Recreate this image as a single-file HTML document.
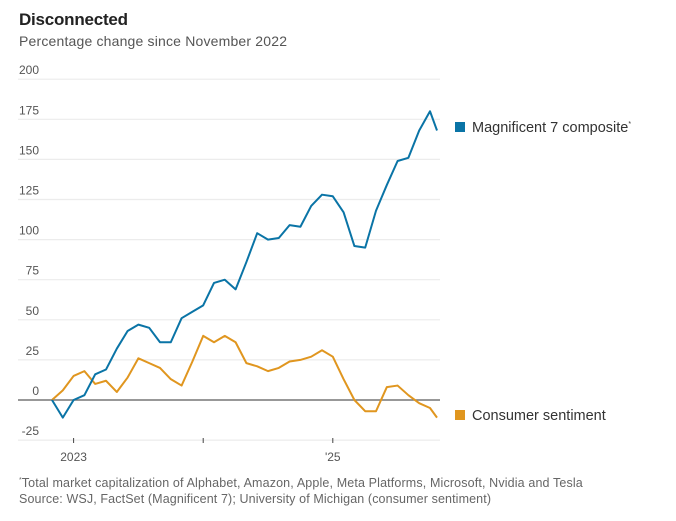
<!DOCTYPE html>
<html><head><meta charset="utf-8">
<style>
body{margin:0;background:#fff;width:676px;height:516px;overflow:hidden;font-family:"Liberation Sans",sans-serif}
svg text{font-family:"Liberation Sans",sans-serif}
</style></head>
<body>
<svg id="chart" width="676" height="516">
<text x="19" y="25" font-size="17" font-weight="bold" fill="#222" textLength="109">Disconnected</text>
<text x="19" y="46" font-size="14" fill="#555" textLength="268">Percentage change since November 2022</text>
<g id="grid"></g>
<g id="series"></g>
<g>
<rect x="455" y="122" width="10" height="10" fill="#0a74a6"/>
<text x="472" y="132" font-size="14.5" fill="#333">Magnificent 7 composite<tspan font-size="7" dy="-6">*</tspan></text>
<rect x="455" y="410" width="10" height="10" fill="#e0961f"/>
<text x="472" y="420" font-size="14.5" fill="#333">Consumer sentiment</text>
</g>
<text x="19" y="487" font-size="12.5" fill="#666"><tspan font-size="7" dy="-5">*</tspan><tspan dy="5" textLength="561">Total market capitalization of Alphabet, Amazon, Apple, Meta Platforms, Microsoft, Nvidia and Tesla</tspan></text>
<text x="19" y="503" font-size="12.5" fill="#666" textLength="472">Source: WSJ, FactSet (Magnificent 7); University of Michigan (consumer sentiment)</text>
</svg>
<script>
const yTicks=[-25,0,25,50,75,100,125,150,175,200];
const xTickMonths=[2,14,26];
const xTickLabels=["2023","","'25"];
const months=[0,1,2,3,4,5,6,7,8,9,10,11,12,13,14,15,16,17,18,19,20,21,22,23,24,25,26,27,28,29,30,31,32,33,34,35,35.65];
const mag7=[0,-11,0,3,16,19,32,43,47,45,36,36,51,55,59,73,75,69,86,104,100,101,109,108,121,128,127,117,96,95,118,134,149,151,168,180,168];
const sentiment=[0,6,15,18,10,12,5,14,26,23,20,13,9,24,40,36,40,36,23,21,18,20,24,25,27,31,27,13,0,-7,-7,8,9,3,-2,-5,-11];
const NS="http://www.w3.org/2000/svg";
function yS(v){return 400-v*1.604;}
function xS(m){return 52+m*10.8;}
const grid=document.getElementById('grid');
yTicks.forEach(t=>{
  const l=document.createElementNS(NS,'line');
  l.setAttribute('x1',18);l.setAttribute('x2',440);
  l.setAttribute('y1',yS(t));l.setAttribute('y2',yS(t));
  l.setAttribute('stroke',t===0?'#777':'#ececec');
  l.setAttribute('stroke-width',t===0?1.5:1.2);
  
  
  grid.appendChild(l);
  const tx=document.createElementNS(NS,'text');
  tx.setAttribute('x',39);tx.setAttribute('y',yS(t)-5);
  tx.setAttribute('text-anchor','end');tx.setAttribute('font-size','12');tx.setAttribute('fill','#555');
  tx.textContent=t;
  
  
  grid.appendChild(tx);
});
xTickMonths.forEach((m,i)=>{
  const l=document.createElementNS(NS,'line');
  l.setAttribute('x1',xS(m));l.setAttribute('x2',xS(m));
  l.setAttribute('y1',438);l.setAttribute('y2',443);
  l.setAttribute('stroke','#444');l.setAttribute('stroke-width','1');
  
  
  grid.appendChild(l);
  const tx=document.createElementNS(NS,'text');
  tx.setAttribute('x',xS(m));tx.setAttribute('y',461);
  tx.setAttribute('text-anchor','middle');tx.setAttribute('font-size','12');tx.setAttribute('fill','#555');
  tx.textContent=xTickLabels[i];
  
  
  grid.appendChild(tx);
});
const series=document.getElementById('series');
function drawLine(vals,color,name){
  const p=document.createElementNS(NS,'polyline');
  p.setAttribute('points',vals.map((v,i)=>xS(months[i])+','+yS(v)).join(' '));
  p.setAttribute('fill','none');p.setAttribute('stroke',color);p.setAttribute('stroke-width','2');
  p.setAttribute('stroke-linejoin','round');
  
  
  series.appendChild(p);
}
drawLine(sentiment,'#e0961f','sentiment-line');
drawLine(mag7,'#0a74a6','mag7-line');
</script>
</body></html>
